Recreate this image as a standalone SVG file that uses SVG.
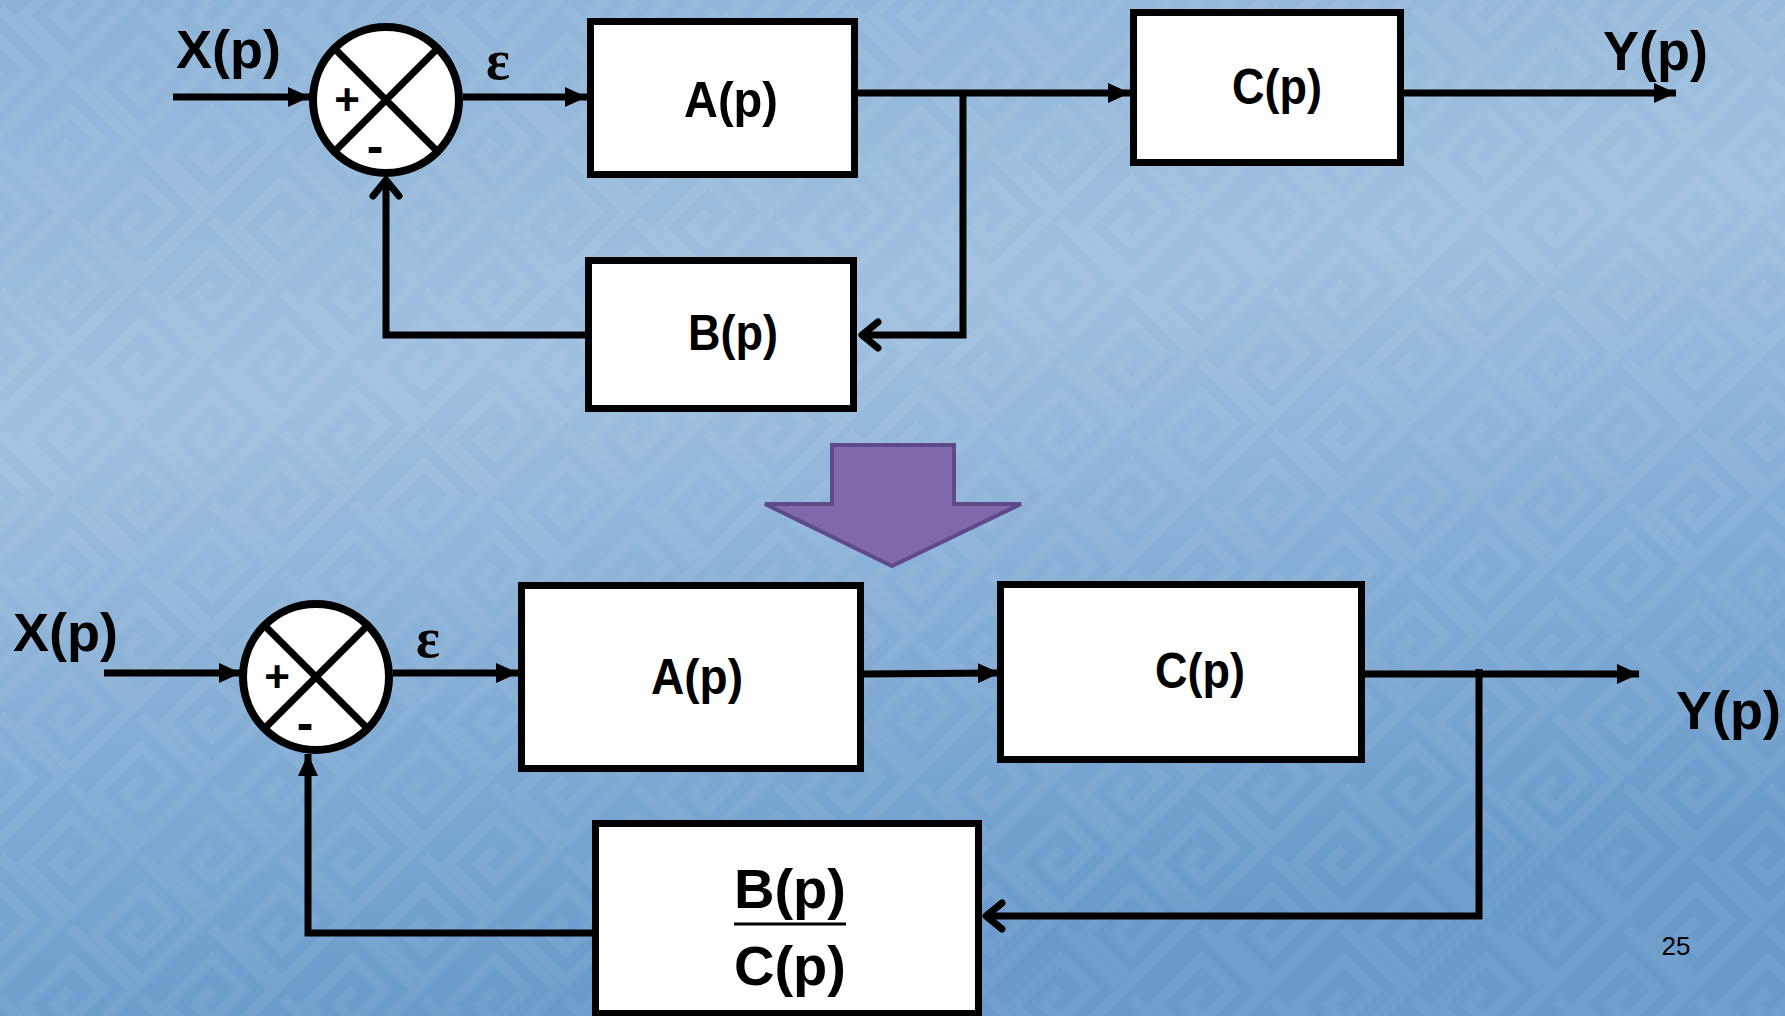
<svg xmlns="http://www.w3.org/2000/svg" width="1785" height="1016" viewBox="0 0 1785 1016">
  <defs>
    <linearGradient id="bg" x1="0" y1="0" x2="0.25" y2="1">
      <stop offset="0" stop-color="#8cb2d7"/>
      <stop offset="0.4" stop-color="#a0c0df"/>
      <stop offset="1" stop-color="#6a9bcb"/>
    </linearGradient>
    <!-- faint rotated key (meander) texture -->
    <pattern id="fret" width="100" height="100" patternUnits="userSpaceOnUse" patternTransform="rotate(45)">
      <path d="M6,6 H94 V94 H28 V28 H72 V72 H50 V50" fill="none" stroke="#ffffff" stroke-opacity="0.055" stroke-width="11"/>
    </pattern>
    <marker id="tri" viewBox="0 0 22 20" refX="22" refY="10" markerWidth="22" markerHeight="20" markerUnits="userSpaceOnUse" orient="auto">
      <path d="M0,0 L22,10 L0,20 z" fill="#000"/>
    </marker>
    <marker id="chev" viewBox="-22 -18 28 36" refX="0" refY="0" markerWidth="28" markerHeight="36" markerUnits="userSpaceOnUse" orient="auto">
      <path d="M-16,-13 L0,0 L-16,13" fill="none" stroke="#000" stroke-width="7" stroke-linecap="round" stroke-linejoin="round"/>
    </marker>
    <style>
      .box { fill: #ffffff; stroke: #000; stroke-width: 7; }
      .sum { fill: #ffffff; stroke: #000; stroke-width: 8; }
      .x { stroke: #000; stroke-width: 7; }
      .wire { fill: none; stroke: #000; stroke-width: 7; stroke-linejoin: miter; }
      .lbl { font-family: "Liberation Sans", Arial, sans-serif; font-weight: bold; fill: #000; }
      .sign { font-family: "Liberation Sans", Arial, sans-serif; font-weight: bold; fill: #000; text-anchor: middle; }
      .eps { font-family: "Liberation Serif", "Times New Roman", serif; font-weight: bold; fill: #000; font-size: 56px; text-anchor: middle; }
      .mid { text-anchor: middle; }
    </style>
  </defs>

  <!-- slide background -->
  <rect width="1785" height="1016" fill="url(#bg)"/>
  <rect width="1785" height="1016" fill="url(#fret)"/>

  <!-- ===== original loop ===== -->
  <g id="sum1">
    <circle class="sum" cx="386" cy="100" r="73"/>
    <line class="x" x1="334" y1="48" x2="438" y2="152"/>
    <line class="x" x1="438" y1="48" x2="334" y2="152"/>
    <text class="sign" x="347" y="115" font-size="44">+</text>
    <text class="sign" x="375" y="163" font-size="50">-</text>
  </g>
  <g id="blockA1">
    <rect class="box" x="590.5" y="21.5" width="264" height="153"/>
    <text class="lbl mid" x="731" y="117" font-size="50" textLength="94" lengthAdjust="spacingAndGlyphs">A(p)</text>
  </g>
  <g id="blockC1">
    <rect class="box" x="1133.5" y="12.5" width="267" height="150"/>
    <text class="lbl mid" x="1277" y="104" font-size="50" textLength="90" lengthAdjust="spacingAndGlyphs">C(p)</text>
  </g>
  <g id="blockB1">
    <rect class="box" x="588.5" y="260.5" width="265" height="148"/>
    <text class="lbl mid" x="733" y="350" font-size="50" textLength="90" lengthAdjust="spacingAndGlyphs">B(p)</text>
  </g>
  <g id="labels1">
    <text class="lbl" x="176" y="68" font-size="54">X(p)</text>
    <text class="eps" x="498" y="79">ε</text>
    <text class="lbl" x="1603" y="70" font-size="56" textLength="105" lengthAdjust="spacingAndGlyphs">Y(p)</text>
  </g>

  <!-- reduction arrow -->
  <g id="reduce">
    <polygon points="832,445 954,445 954,504 1021,504 892,566 765,504 832,504" fill="#8068ad" stroke="#5e4a87" stroke-width="4" stroke-linejoin="miter"/>
  </g>

  <!-- ===== reduced loop ===== -->
  <g id="sum2">
    <circle class="sum" cx="316" cy="677" r="73"/>
    <line class="x" x1="264" y1="625" x2="368" y2="729"/>
    <line class="x" x1="368" y1="625" x2="264" y2="729"/>
    <text class="sign" x="277" y="692" font-size="44">+</text>
    <text class="sign" x="305" y="740" font-size="50">-</text>
  </g>
  <g id="blockA2">
    <rect class="box" x="521.5" y="585.5" width="339" height="183"/>
    <text class="lbl mid" x="697" y="694" font-size="50" textLength="92" lengthAdjust="spacingAndGlyphs">A(p)</text>
  </g>
  <g id="blockC2">
    <rect class="box" x="1000.5" y="584.5" width="361" height="175"/>
    <text class="lbl mid" x="1200" y="688" font-size="50" textLength="90" lengthAdjust="spacingAndGlyphs">C(p)</text>
  </g>
  <g id="blockBC">
    <rect class="box" x="595.5" y="823.5" width="383" height="190"/>
    <text class="lbl mid" x="790" y="908" font-size="56">B(p)</text>
    <line x1="734" y1="924" x2="846" y2="924" stroke="#000" stroke-width="3"/>
    <text class="lbl mid" x="790" y="985" font-size="56">C(p)</text>
  </g>
  <g id="labels2">
    <text class="lbl" x="13" y="651" font-size="54">X(p)</text>
    <text class="eps" x="428" y="657">ε</text>
    <text class="lbl" x="1676" y="729" font-size="54">Y(p)</text>
  </g>

  <!-- connectors -->
  <g id="connectors">
    <line class="wire" x1="173" y1="97" x2="310" y2="97" marker-end="url(#tri)"/>
    <line class="wire" x1="463" y1="97" x2="587" y2="97" marker-end="url(#tri)"/>
    <line class="wire" x1="858" y1="93" x2="1130" y2="93" marker-end="url(#tri)"/>
    <line class="wire" x1="1404" y1="93" x2="1676" y2="93" marker-end="url(#tri)"/>
    <polyline class="wire" points="963,90 963,335 862,335" marker-end="url(#chev)"/>
    <polyline class="wire" points="585,335 386,335 386,180" marker-end="url(#chev)"/>

    <line class="wire" x1="104" y1="673" x2="241" y2="673" marker-end="url(#tri)"/>
    <line class="wire" x1="393" y1="673" x2="518" y2="673" marker-end="url(#tri)"/>
    <line class="wire" x1="864" y1="674" x2="1000" y2="673" marker-end="url(#tri)"/>
    <line class="wire" x1="1365" y1="674" x2="1639" y2="674" marker-end="url(#tri)"/>
    <polyline class="wire" points="1479,669 1479,916 986,916" marker-end="url(#chev)"/>
    <polyline class="wire" points="595,933 308,933 308,754" marker-end="url(#tri)"/>
  </g>

  <text x="1676" y="955" font-family="'Liberation Sans', Arial, sans-serif" font-size="26" text-anchor="middle" fill="#000">25</text>
</svg>
